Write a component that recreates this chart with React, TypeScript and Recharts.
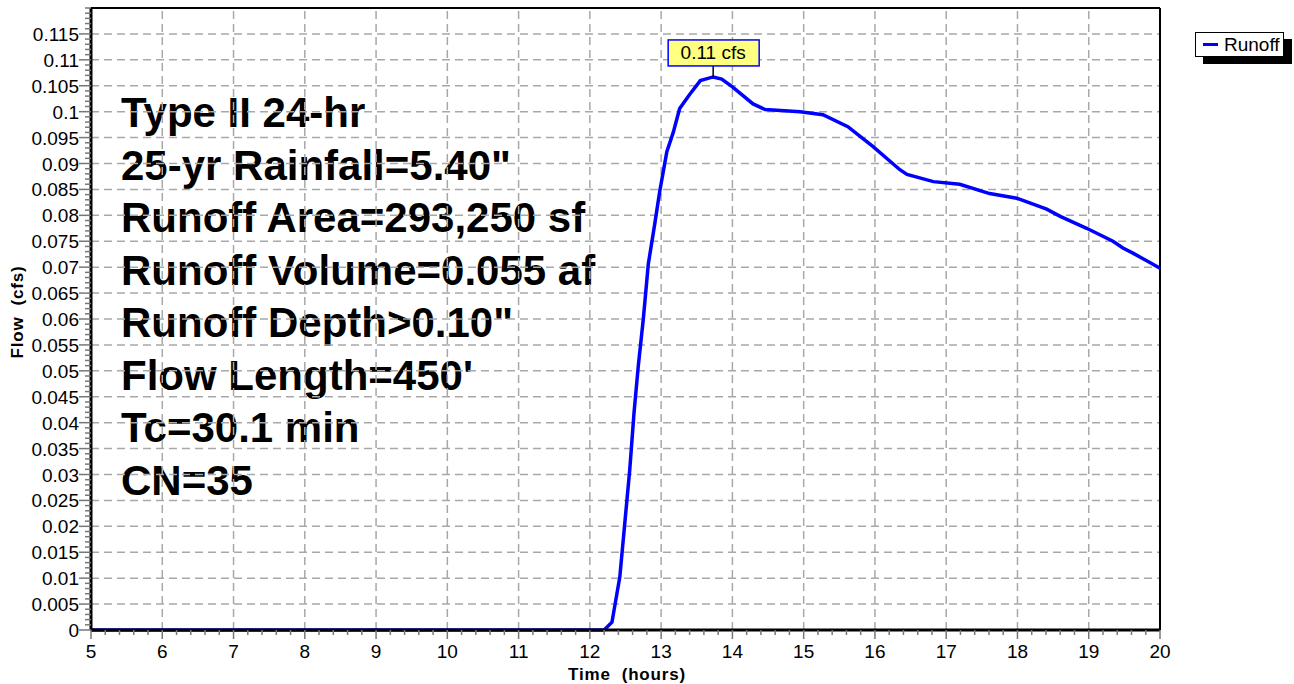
import React from 'react';
import {
  LineChart,
  Line,
  XAxis,
  YAxis,
  ReferenceLine,
  ReferenceDot,
} from 'recharts';

// hydrograph (hours, cfs)
const hours = [
  5, 12.2, 12.31, 12.42, 12.49, 12.56, 12.62, 12.68, 12.75, 12.82, 12.91, 12.98,
  13.08, 13.17, 13.26, 13.4, 13.55, 13.73, 13.85, 14.0, 14.29, 14.46, 14.95, 15.27,
  15.62, 15.97, 16.35, 16.45, 16.82, 17.19, 17.61, 17.99, 18.41, 18.6, 18.97, 19.34,
  19.48, 19.62, 19.82, 20,
];
const flow = [
  0, 0, 0.0015, 0.0102, 0.0206, 0.031, 0.042, 0.051, 0.06, 0.0706, 0.0783, 0.0846,
  0.0923, 0.096, 0.1006, 0.1033, 0.106, 0.1067, 0.1063, 0.1048, 0.1015, 0.1004, 0.1, 0.0994,
  0.0971, 0.0933, 0.0888, 0.0879, 0.0865, 0.086, 0.0842, 0.0833, 0.0812, 0.0798, 0.0775, 0.075,
  0.0737, 0.0727, 0.0712, 0.0698,
];

const xMajor = [5, 6, 7, 8, 9, 10, 11, 12, 13, 14, 15, 16, 17, 18, 19, 20];
const yMajor = [
  0, 0.005, 0.01, 0.015, 0.02, 0.025, 0.03, 0.035, 0.04, 0.045, 0.05, 0.055,
  0.06, 0.065, 0.07, 0.075, 0.08, 0.085, 0.09, 0.095, 0.1, 0.105, 0.11, 0.115,
];
const xMinor = Array.from({ length: 76 }, (_, i) => Number((5 + i * 0.2).toFixed(1)));
const yMinor = Array.from({ length: 121 }, (_, i) => Number((i * 0.001).toFixed(3)));

const infoLines = [
  'Type II 24-hr',
  '25-yr Rainfall=5.40"',
  'Runoff Area=293,250 sf',
  'Runoff Volume=0.055 af',
  'Runoff Depth>0.10"',
  "Flow Length=450'",
  'Tc=30.1 min',
  'CN=35',
];

const peakHour = 13.73;
const peakFlow = 0.1067;
const peakLabel = '0.11 cfs';
const seriesName = 'Runoff';

const data = hours.map((t, i) => ({ t, q: flow[i] }));

const FONT = 'Arial, "Liberation Sans", sans-serif';

const isMajorX = (v: number) => xMajor.some((m) => Math.abs(m - v) < 1e-6);
const isMajorY = (v: number) => yMajor.some((m) => Math.abs(m - v) < 1e-7);

const XTick = (props: any) => {
  const { x, y, payload } = props;
  const major = isMajorX(payload.value);
  return (
    <g>
      <line x1={x} x2={x} y1={y} y2={y + (major ? 9 : 5)} stroke="#777" strokeWidth={1.5} />
      {major && (
        <text x={x} y={y + 28} textAnchor="middle" fontSize={19} fontFamily={FONT} fill="#000">
          {payload.value}
        </text>
      )}
    </g>
  );
};

const YTick = (props: any) => {
  const { x, y, payload } = props;
  const major = isMajorY(payload.value);
  return (
    <g>
      <line x1={x - (major ? 12 : 6)} x2={x} y1={y} y2={y} stroke="#777" strokeWidth={1.5} />
      {major && (
        <text x={x - 12} y={y + 7} textAnchor="end" fontSize={19} fontFamily={FONT} fill="#000">
          {String(Number(payload.value.toFixed(3)))}
        </text>
      )}
    </g>
  );
};

const PeakMarker = (props: any) => {
  const { cx, cy } = props;
  return (
    <g>
      <line x1={cx} x2={cx} y1={cy - 11} y2={cy} stroke="#000" strokeWidth={1.5} />
      <rect x={cx - 45} y={cy - 37} width={91} height={26} fill="#ffff80" stroke="#0000ff" strokeWidth={1.5} />
      <text x={cx} y={cy - 18} textAnchor="middle" fontSize={19} fontFamily={FONT} fill="#000">
        {peakLabel}
      </text>
    </g>
  );
};

const gridStroke = '#a8a8a8';

export default function App() {
  return (
    <div style={{ position: 'absolute', left: 0, top: 0, width: 1294, height: 684, background: '#fff' }}>
      <LineChart
        width={1294}
        height={684}
        data={data}
        margin={{ top: 8, right: 134, bottom: 0, left: 0 }}
      >
        <XAxis
          dataKey="t"
          type="number"
          domain={[5, 20]}
          ticks={xMinor}
          interval={0}
          height={54}
          tickSize={0}
          tickMargin={0}
          tick={<XTick />}
          axisLine={{ stroke: '#000', strokeWidth: 3 }}
        />
        <YAxis
          type="number"
          domain={[0, 0.12]}
          ticks={yMinor}
          interval={0}
          width={91}
          tickSize={0}
          tickMargin={0}
          tick={<YTick />}
          axisLine={{ stroke: '#000', strokeWidth: 3 }}
        />
        {yMajor.slice(1).map((v) => (
          <ReferenceLine key={'h' + v} y={v} stroke={gridStroke} strokeWidth={1.5} strokeDasharray="8 5" />
        ))}
        {xMajor.slice(1).map((v) => (
          <ReferenceLine key={'v' + v} x={v} stroke={gridStroke} strokeWidth={1.5} strokeDasharray="8 5" />
        ))}
        <ReferenceLine y={0.12} stroke="#000" strokeWidth={2} />
        <ReferenceLine x={20} stroke="#000" strokeWidth={2} />
        {infoLines.map((s, i) => (
          <text
            key={s}
            x={121}
            y={127 + i * 52.5}
            fontSize={42}
            fontWeight="bold"
            fontFamily={FONT}
            fill="#000"
          >
            {s}
          </text>
        ))}
        <text
          x={627}
          y={680}
          textAnchor="middle"
          fontSize={17}
          fontWeight="bold"
          fontFamily={FONT}
          letterSpacing={0.8}
          style={{ whiteSpace: 'pre' }}
        >
          {'Time  (hours)'}
        </text>
        <text
          x={0}
          y={0}
          transform="translate(23, 312) rotate(-90)"
          textAnchor="middle"
          fontSize={17}
          fontWeight="bold"
          fontFamily={FONT}
          letterSpacing={0.8}
          style={{ whiteSpace: 'pre' }}
        >
          {'Flow  (cfs)'}
        </text>
        <Line
          type="linear"
          dataKey="q"
          name={seriesName}
          stroke="#0000ff"
          strokeWidth={3.5}
          dot={false}
          activeDot={false}
          isAnimationActive={false}
        />
        <ReferenceDot x={peakHour} y={peakFlow} r={0} shape={<PeakMarker />} />
      </LineChart>
      <div
        style={{
          position: 'absolute',
          left: 1195,
          top: 32,
          width: 89,
          height: 25,
          boxSizing: 'border-box',
          border: '1px solid #000',
          background: '#fff',
          boxShadow: '8px 7px 0 #000',
          display: 'flex',
          alignItems: 'center',
          fontFamily: FONT,
          fontSize: 19,
          color: '#000',
        }}
      >
        <span
          style={{ display: 'inline-block', width: 15, height: 3, background: '#0000ff', margin: '0 6px 0 7px' }}
        />
        {seriesName}
      </div>
    </div>
  );
}
